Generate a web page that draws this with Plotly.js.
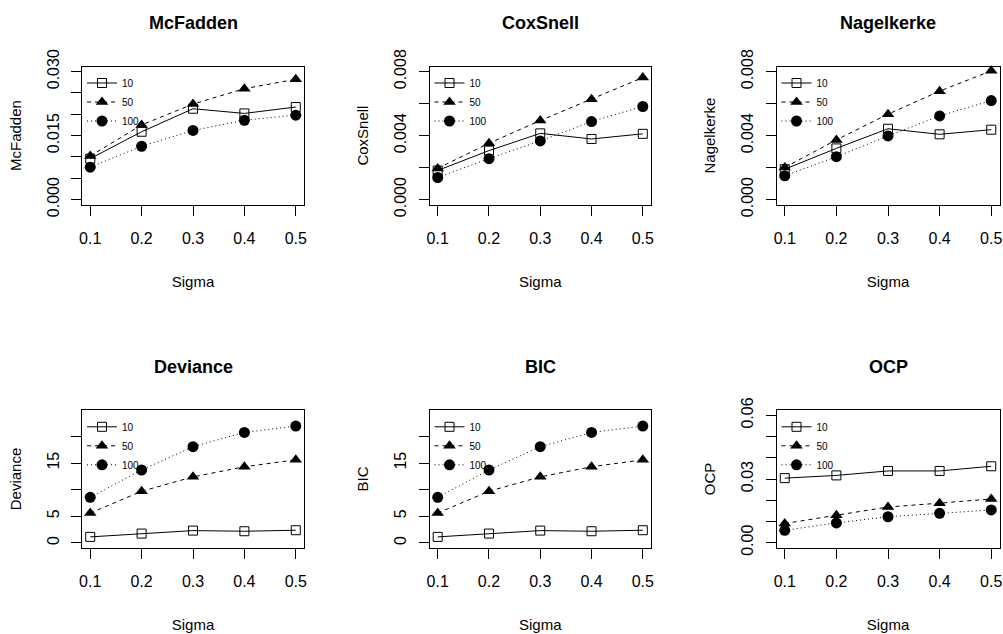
<!DOCTYPE html>
<html>
<head>
<meta charset="utf-8">
<script src="https://cdn.plot.ly/plotly-3.0.1.min.js"></script>
<style>
  html, body { margin: 0; padding: 0; background: #fff; }
  #chart { width: 1003px; height: 634px; }
</style>
</head>
<body>
<div id="chart"></div>
<script>
// ---- data ----
var sigma = [0.1, 0.2, 0.3, 0.4, 0.5];
var sigmaLabels = ['0.1', '0.2', '0.3', '0.4', '0.5'];
var seriesNames = ['10', '50', '100'];
var panelTitles = ['McFadden', 'CoxSnell', 'Nagelkerke', 'Deviance', 'BIC', 'OCP'];

var mcf10  = [0.0096, 0.0159, 0.0213, 0.0202, 0.0217];
var mcf50  = [0.0102, 0.0175, 0.0224, 0.0260, 0.0282];
var mcf100 = [0.0076, 0.0125, 0.0162, 0.0186, 0.0198];

var cs10  = [0.00182, 0.00306, 0.00414, 0.00379, 0.00411];
var cs50  = [0.00195, 0.00352, 0.00494, 0.00628, 0.00763];
var cs100 = [0.00138, 0.00256, 0.00367, 0.00488, 0.00582];

var nk10  = [0.00190, 0.00320, 0.00443, 0.00408, 0.00437];
var nk50  = [0.00201, 0.00373, 0.00534, 0.00678, 0.00805];
var nk100 = [0.00149, 0.00268, 0.00398, 0.00523, 0.00619];

var dev10  = [1.13, 1.75, 2.31, 2.19, 2.38];
var dev50  = [5.6, 9.7, 12.4, 14.3, 15.6];
var dev100 = [8.56, 13.69, 18.06, 20.75, 21.94];

var bic10  = [1.13, 1.75, 2.31, 2.19, 2.38];
var bic50  = [5.6, 9.7, 12.4, 14.3, 15.6];
var bic100 = [8.56, 13.69, 18.06, 20.75, 21.94];

var ocp10  = [0.0304, 0.0317, 0.0338, 0.0338, 0.0360];
var ocp50  = [0.0090, 0.0129, 0.0168, 0.0186, 0.0206];
var ocp100 = [0.0058, 0.0093, 0.0122, 0.0138, 0.0154];

var mcfTicks = [0, 0.005, 0.010, 0.015, 0.020, 0.025, 0.030];
var mcfTickText = ['0.000', '', '', '0.015', '', '', '0.030'];
var r2Ticks = [0, 0.002, 0.004, 0.006, 0.008];
var r2TickText = ['0.000', '', '0.004', '', '0.008'];
var devTicks = [0, 5, 10, 15, 20];
var devTickText = ['0', '5', '', '15', ''];
var ocpTicks = [0, 0.01, 0.02, 0.03, 0.04, 0.05, 0.06];
var ocpTickText = ['0.00', '', '', '0.03', '', '', '0.06'];

// ---- layout helpers ----
var W = 1003, H = 634;
var FONT = 'Liberation Sans, Arial, Helvetica, sans-serif';

var panels = [
  {data: [mcf10, mcf50, mcf100], ticks: mcfTicks, text: mcfTickText, yr: [-0.0012, 0.0312], box: [82, 304, 66.5, 204.7]},
  {data: [cs10, cs50, cs100],    ticks: r2Ticks,  text: r2TickText,  yr: [-0.00032, 0.00832], box: [429.5, 651, 66.5, 204.7]},
  {data: [nk10, nk50, nk100],    ticks: r2Ticks,  text: r2TickText,  yr: [-0.00032, 0.00832], box: [776.5, 999.5, 66.5, 204.7]},
  {data: [dev10, dev50, dev100], ticks: devTicks, text: devTickText, yr: [-0.9, 24.9], box: [82, 304, 410.3, 547.7]},
  {data: [bic10, bic50, bic100], ticks: devTicks, text: devTickText, yr: [-0.9, 24.9], box: [429.5, 651, 410.3, 547.7]},
  {data: [ocp10, ocp50, ocp100], ticks: ocpTicks, text: ocpTickText, yr: [-0.0024, 0.0624], box: [776.5, 999.5, 410.3, 547.7]}
];

var styles = [
  {dash: 'solid',   symbol: 'square-open', size: 9,  mline: 1},
  {dash: '4px,4px', symbol: 'triangle-up', size: 11, mline: 0},
  {dash: '1px,3px', symbol: 'circle',      size: 11, mline: 0}
];

var traces = [];
var layout = {
  width: W, height: H,
  margin: {l: 0, r: 0, t: 0, b: 0},
  paper_bgcolor: '#fff', plot_bgcolor: '#fff',
  font: {family: FONT, color: '#000', size: 16},
  showlegend: true,
  annotations: []
};

panels.forEach(function (p, i) {
  var n = i + 1;
  var xa = 'x' + (n === 1 ? '' : n), ya = 'y' + (n === 1 ? '' : n);
  var xk = 'xaxis' + (n === 1 ? '' : n), yk = 'yaxis' + (n === 1 ? '' : n);
  var lg = 'legend' + (n === 1 ? '' : n);
  var b = p.box;
  var xd = [b[0] / W, b[1] / W];
  var yd = [1 - b[3] / H, 1 - b[2] / H];

  p.data.forEach(function (vals, s) {
    var st = styles[s];
    traces.push({
      type: 'scatter', mode: 'lines+markers',
      x: sigma, y: vals, name: seriesNames[s],
      xaxis: xa, yaxis: ya, legend: lg,
      line: {color: '#000', width: 1, dash: st.dash},
      marker: {color: '#000', symbol: st.symbol, size: st.size, line: {color: '#000', width: st.mline}},
      cliponaxis: false
    });
  });

  layout[xk] = {
    domain: xd, anchor: ya, range: [0.084, 0.516],
    tickvals: sigma, ticktext: sigmaLabels,
    ticks: 'outside', ticklen: 10, tickcolor: '#000', tickwidth: 1,
    ticklabelstandoff: 9,
    showline: true, mirror: true, linecolor: '#000', linewidth: 1,
    showgrid: false, zeroline: false, fixedrange: true,
    tickfont: {size: 16, family: FONT, color: '#000'},
    title: {text: 'Sigma', font: {size: 15, family: FONT, color: '#000'}, standoff: 30}
  };
  layout[yk] = {
    domain: yd, anchor: xa, range: p.yr,
    tickvals: p.ticks, ticktext: p.text, tickangle: -90,
    ticks: 'outside', ticklen: 10, tickcolor: '#000', tickwidth: 1,
    ticklabelstandoff: 6,
    showline: true, mirror: true, linecolor: '#000', linewidth: 1,
    showgrid: false, zeroline: false, fixedrange: true,
    tickfont: {size: 16, family: FONT, color: '#000'},
    title: {text: panelTitles[i], font: {size: 15, family: FONT, color: '#000'}, standoff: 19}
  };
  layout[lg] = {
    x: b[0] / W, y: 1 - (b[2] + 2) / H, xanchor: 'left', yanchor: 'top',
    bgcolor: 'rgba(0,0,0,0)', borderwidth: 0,
    font: {size: 10, family: FONT, color: '#000'},
    tracegroupgap: 0
  };
  layout.annotations.push({
    text: '<b>' + panelTitles[i] + '</b>',
    xref: 'paper', yref: 'paper',
    x: (xd[0] + xd[1]) / 2, y: 1 - (b[2] - 43) / H,
    xanchor: 'center', yanchor: 'middle', showarrow: false,
    font: {size: 18, family: FONT, color: '#000'}
  });
});

Plotly.newPlot('chart', traces, layout, {displayModeBar: false, staticPlot: true});
</script>
</body>
</html>
